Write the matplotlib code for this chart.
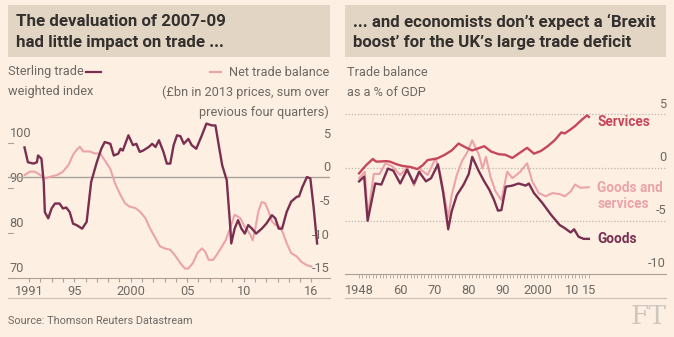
import matplotlib.pyplot as plt
from matplotlib.transforms import blended_transform_factory as blend

# ---- data ----
# left: sterling trade weighted index (left axis)
stg_year = [1990.6, 1990.9, 1991.4, 1991.7, 1991.8, 1992.1, 1992.3, 1992.4, 1992.7, 1993.0,
            1993.3, 1993.7, 1994.0, 1994.3, 1994.6, 1994.9, 1995.2, 1995.7, 1996.1, 1996.5,
            1997.0, 1997.4, 1997.7, 1998.2, 1998.5, 1998.9, 1999.1, 1999.3, 1999.8, 2000.2,
            2000.5, 2000.8, 2001.1, 2001.6, 2001.9, 2002.2, 2002.5, 2002.9, 2003.2, 2003.5,
            2003.8, 2004.1, 2004.4, 2004.7, 2005.1, 2005.4, 2005.8, 2006.3, 2006.7, 2007.2,
            2007.5, 2007.8, 2008.1, 2008.5, 2008.8, 2008.9, 2009.2, 2009.5, 2009.8, 2010.1,
            2010.4, 2010.7, 2011.1, 2011.6, 2012.0, 2012.5, 2012.8, 2013.1, 2013.4, 2013.8,
            2014.2, 2014.7, 2014.9, 2015.2, 2015.6, 2015.9, 2016.2, 2016.5]
stg_val = [99.1, 95.8, 95.5, 95.8, 97.3, 96.6, 91.4, 84.7, 83.3, 85.5,
           86.6, 86.6, 85.5, 85.7, 84.7, 82.1, 81.8, 81.0, 82.5, 91.4,
           95.8, 98.8, 100.3, 99.9, 97.3, 97.7, 98.8, 98.4, 101.8, 99.6,
           99.9, 98.1, 98.4, 99.2, 99.9, 99.2, 100.7, 98.1, 95.5, 95.5,
           99.6, 101.8, 101.6, 99.9, 101.0, 99.6, 98.8, 101.8, 104.4, 104.0,
           104.0, 99.5, 95.1, 91.8, 81.8, 77.7, 81.0, 82.9, 81.0, 79.9,
           81.8, 81.1, 79.9, 81.0, 82.1, 84.0, 83.3, 81.0, 81.0, 84.7,
           87.0, 88.1, 88.2, 90.3, 92.5, 92.2, 85.5, 77.7]

# left: net trade balance, £bn (right axis)
ntb_year = [1990.6, 1991.1, 1991.5, 1992.0, 1992.4, 1992.9, 1993.5, 1994.0, 1994.5, 1994.9,
            1995.2, 1995.5, 1995.8, 1996.4, 1996.8, 1997.3, 1997.7, 1998.2, 1998.6, 1999.1,
            1999.5, 1999.9, 2000.4, 2000.8, 2001.3, 2001.7, 2002.2, 2002.6, 2003.0, 2003.5,
            2003.9, 2004.4, 2004.8, 2005.1, 2005.5, 2005.9, 2006.3, 2006.6, 2006.9, 2007.3,
            2007.6, 2007.9, 2008.4, 2008.8, 2009.2, 2009.7, 2010.1, 2010.6, 2010.8, 2011.0,
            2011.3, 2011.6, 2011.9, 2012.2, 2012.5, 2012.8, 2013.2, 2013.5, 2013.8, 2014.2,
            2014.7, 2015.1, 2015.6, 2016.0]
ntb_val = [0.3, 0.8, 0.8, 0.3, -0.2, 0.05, 0.3, 0.8, 1.8, 3.3,
           4.0, 4.5, 3.8, 3.8, 3.5, 3.5, 2.5, 1.2, -0.9, -2.7,
           -3.9, -4.4, -4.6, -5.1, -6.1, -7.6, -9.1, -10.3, -10.6, -10.8,
           -11.6, -12.8, -13.6, -13.6, -12.8, -11.3, -10.6, -11.1, -12.3, -12.3,
           -11.6, -10.8, -9.4, -7.6, -5.6, -6.1, -7.4, -8.6, -9.4, -7.9,
           -5.1, -3.7, -3.9, -5.1, -6.6, -7.1, -7.4, -8.4, -9.8, -11.3,
           -11.8, -12.6, -13.1, -13.3]

# right: trade balance as % of GDP
srv_year = [1948, 1950, 1952, 1953, 1956, 1957, 1959, 1960.6, 1963, 1965, 1966.5, 1968,
            1970.8, 1973, 1975, 1977, 1979, 1981, 1984.5, 1986.5, 1988.7, 1990.6, 1992.7,
            1994.5, 1997, 1999, 2001, 2003, 2005, 2007, 2008, 2010, 2011, 2013, 2014.5, 2015]
srv_val = [-0.55, 0.2, 0.8, 0.55, 0.6, 0.55, 0.3, 0.15, 0.05, -0.15, 0.2, 0.7,
           0.85, 1.2, 1.6, 2.25, 1.9, 1.6, 2.0, 1.5, 1.25, 1.2, 0.9,
           1.3, 1.85, 1.3, 1.55, 2.0, 2.55, 3.3, 3.2, 3.65, 3.9, 4.5, 4.9, 4.75]

gds_year = [1948, 1949.5, 1950.5, 1952.7, 1954.5, 1956.4, 1958, 1960, 1962, 1964, 1965.5,
            1967.5, 1969, 1971, 1972.5, 1974, 1975, 1976.5, 1978.5, 1980, 1981, 1983,
            1984.5, 1986, 1987.3, 1988.5, 1989.5, 1990.8, 1992.7, 1994.5, 1996.6, 1997.5,
            1999, 2001.5, 2004, 2006.5, 2008, 2009.7, 2010.7, 2012, 2013.5, 2015]
gds_val = [-1.3, -0.85, -5.0, -1.5, -1.6, -0.1, -0.3, -1.5, -0.2, -1.5, -0.4,
           -1.3, -1.0, 0.3, -2.3, -5.8, -4.1, -2.6, -1.6, -0.6, 1.0, -0.4,
           -1.3, -2.1, -3.0, -4.05, -4.0, -1.8, -1.7, -1.5, -1.7, -1.5,
           -2.4, -3.35, -4.45, -5.4, -5.7, -6.1, -5.8, -6.5, -6.7, -6.7]

gs_year = [1948, 1949.7, 1950.5, 1952.3, 1954, 1955.7, 1957.7, 1960, 1962, 1964, 1966,
           1968, 1970.3, 1971.7, 1974, 1975, 1976.5, 1978, 1979.5, 1981, 1983, 1984,
           1985, 1986.3, 1987.8, 1989.5, 1991.2, 1992.7, 1995, 1997, 1998.5, 2000.4,
           2002.4, 2004.4, 2006.5, 2008, 2009.7, 2011, 2012.5, 2015]
gs_val = [-1.0, -0.4, -4.6, -0.6, -0.6, 0.4, 0.1, -0.7, 0.0, -1.7, -0.2,
          -0.7, 0.85, -0.6, -4.7, -2.6, -0.7, 0.6, 1.4, 2.55, 1.15, -0.1,
          1.0, -0.85, -2.25, -3.05, -0.4, -1.0, -0.4, 0.4, -1.3, -2.4,
          -2.7, -2.4, -2.5, -2.7, -2.25, -1.6, -1.9, -1.85]

left_xticks = [1991, 1995, 2000, 2005, 2010, 2016]
left_xlabels = ['1991', '95', '2000', '05', '10', '16']
right_xticks = [1948, 1960, 1970, 1980, 1990, 2000, 2010, 2015]
right_xlabels = ['1948', '60', '70', '80', '90', '2000', '10', '15']

# ---- style ----
W, H = 674, 337
BG = '#fdf0e3'
BOX = '#e3d5c4'
TXT = '#33302e'
GREY = '#6e6862'
AXC = '#aaa299'
MAROON = '#7a2f50'
PINK = '#eba3a9'
RED = '#c6475a'
FS = 9.2

plt.rcParams['font.family'] = ['Roboto', 'DejaVu Sans']


def rect(x0, y0, x1, y1):
    return [x0 / W, 1 - y1 / H, (x1 - x0) / W, (y1 - y0) / H]


def ftxt(x, y, s, **kw):
    fig.text(x / W, 1 - y / H, s, **kw)


fig = plt.figure(figsize=(W / 100, H / 100), dpi=100, facecolor=BG)

# title boxes
for x0, x1 in [(8, 330), (345, 666)]:
    tb = fig.add_axes(rect(x0, 5, x1, 57))
    tb.set_facecolor(BOX)
    tb.set_xticks([])
    tb.set_yticks([])
    for s in tb.spines.values():
        s.set_visible(False)

ttl = dict(fontsize=12.2, fontweight='bold', color=TXT, va='center')
ftxt(16, 22, 'The devaluation of 2007-09', **ttl)
ftxt(16, 42, 'had little impact on trade ...', **ttl)
ftxt(353, 22, '... and economists don\u2019t expect a \u2018Brexit', **ttl)
ftxt(353, 42, 'boost\u2019 for the UK\u2019s large trade deficit', **ttl)

sub = dict(fontsize=FS, color=GREY, va='center')
ftxt(8, 72, 'Sterling trade', **sub)
ftxt(8, 92, 'weighted index', **sub)
ftxt(329, 72, 'Net trade balance', ha='right', **sub)
ftxt(329, 92, '(\u00a3bn in 2013 prices, sum over', ha='right', **sub)
ftxt(329, 112, 'previous four quarters)', ha='right', **sub)
ftxt(347, 72, 'Trade balance', **sub)
ftxt(347, 92, 'as a % of GDP', **sub)
fig.add_artist(plt.Line2D([86 / W, 101 / W], [1 - 72 / H] * 2, color=MAROON, lw=1.6))
fig.add_artist(plt.Line2D([210 / W, 221 / W], [1 - 72 / H] * 2, color=PINK, lw=1.6))

# ---- left panel ----
ax = fig.add_axes(rect(8, 118, 330, 278))
ax.set_facecolor('none')
ax.set_xlim(1989.14, 2017.64)
ax.set_ylim(70, 105.56)
ax2 = ax.twinx()
ax2.set_ylim(-15, 8.77)
for a in (ax, ax2):
    for s in a.spines.values():
        s.set_visible(False)
    a.set_yticks([])

ax.spines['bottom'].set_visible(True)
ax.spines['bottom'].set_color(AXC)
ax.set_xticks(range(1991, 2017))
ax.set_xticklabels([left_xlabels[left_xticks.index(y)] if y in left_xticks else '' for y in range(1991, 2017)])
ax.tick_params(axis='x', length=3, width=0.8, color=AXC, pad=2, labelsize=FS, labelcolor=GREY)

ax2.axhline(0, color=AXC, lw=1)
ax2.plot(ntb_year, ntb_val, color=PINK, lw=1.5, zorder=2)
ax2.plot(stg_year, [(v - 70) / 1.5 - 15 for v in stg_val], color=MAROON, lw=1.7, zorder=3)

tl = blend(ax.transAxes, ax.transData)
for v in [100, 90, 80, 70]:
    ax.text(0.005, v + 0.6, str(v), transform=tl, fontsize=FS, color=GREY, ha='left', va='bottom')
    ax.plot([0, 0.015], [v, v], transform=tl, color=AXC, lw=0.8, clip_on=False)
tr = blend(ax2.transAxes, ax2.transData)
for v in [5, 0, -5, -10, -15]:
    ax2.text(1, v + 0.4, str(v), transform=tr, fontsize=FS, color=GREY, ha='right', va='bottom')

# ---- right panel ----
bx = fig.add_axes(rect(345, 105, 666, 274))
bx.set_facecolor('none')
bx.set_xlim(1943.9, 2037.5)
bx.set_ylim(-10, 5.87)
for s in bx.spines.values():
    s.set_visible(False)
bx.spines['bottom'].set_visible(True)
bx.spines['bottom'].set_color(AXC)
bx.set_yticks([])
for v in [5, 0, -5]:
    bx.axhline(v, color='#bcb3a9', lw=0.9, ls=(0, (1, 1.5)))
bx.set_xticks(range(1948, 2016))
bx.set_xticklabels([right_xlabels[right_xticks.index(y)] if y in right_xticks else '' for y in range(1948, 2016)])
bx.tick_params(axis='x', length=3, width=0.6, color=AXC, pad=4, labelsize=FS, labelcolor=GREY)

bx.plot(gs_year, gs_val, color=PINK, lw=1.5, zorder=2)
bx.plot(srv_year, srv_val, color=RED, lw=1.7, zorder=3)
bx.plot(gds_year, gds_val, color=MAROON, lw=1.7, zorder=4)

br = blend(bx.transAxes, bx.transData)
for v in [5, 0, -5, -10]:
    bx.text(1, v + 0.35, str(v), transform=br, fontsize=FS, color=GREY, ha='right', va='bottom')

lab = dict(fontsize=9.8, fontweight='bold', va='center')
bx.text(2017.5, 4.3, 'Services', color=RED, **lab)
bx.text(2017.5, -1.9, 'Goods and', color=PINK, **lab)
bx.text(2017.5, -3.45, 'services', color=PINK, **lab)
bx.text(2017.5, -6.7, 'Goods', color=MAROON, **lab)

# bottom rules, source, logo
for x0, x1 in [(8, 330), (345, 666)]:
    fig.add_artist(plt.Line2D([x0 / W, x1 / W], [1 - 298 / H] * 2, color='#c9c0b6', lw=0.8))
ftxt(8, 321, 'Source: Thomson Reuters Datastream', fontsize=7.8, color=GREY, va='center')
ftxt(666, 317, 'FT', fontsize=19, color='#cfc6bc', ha='right', va='center', family='DejaVu Serif')

fig.savefig('out.png', dpi=100, facecolor=BG)
